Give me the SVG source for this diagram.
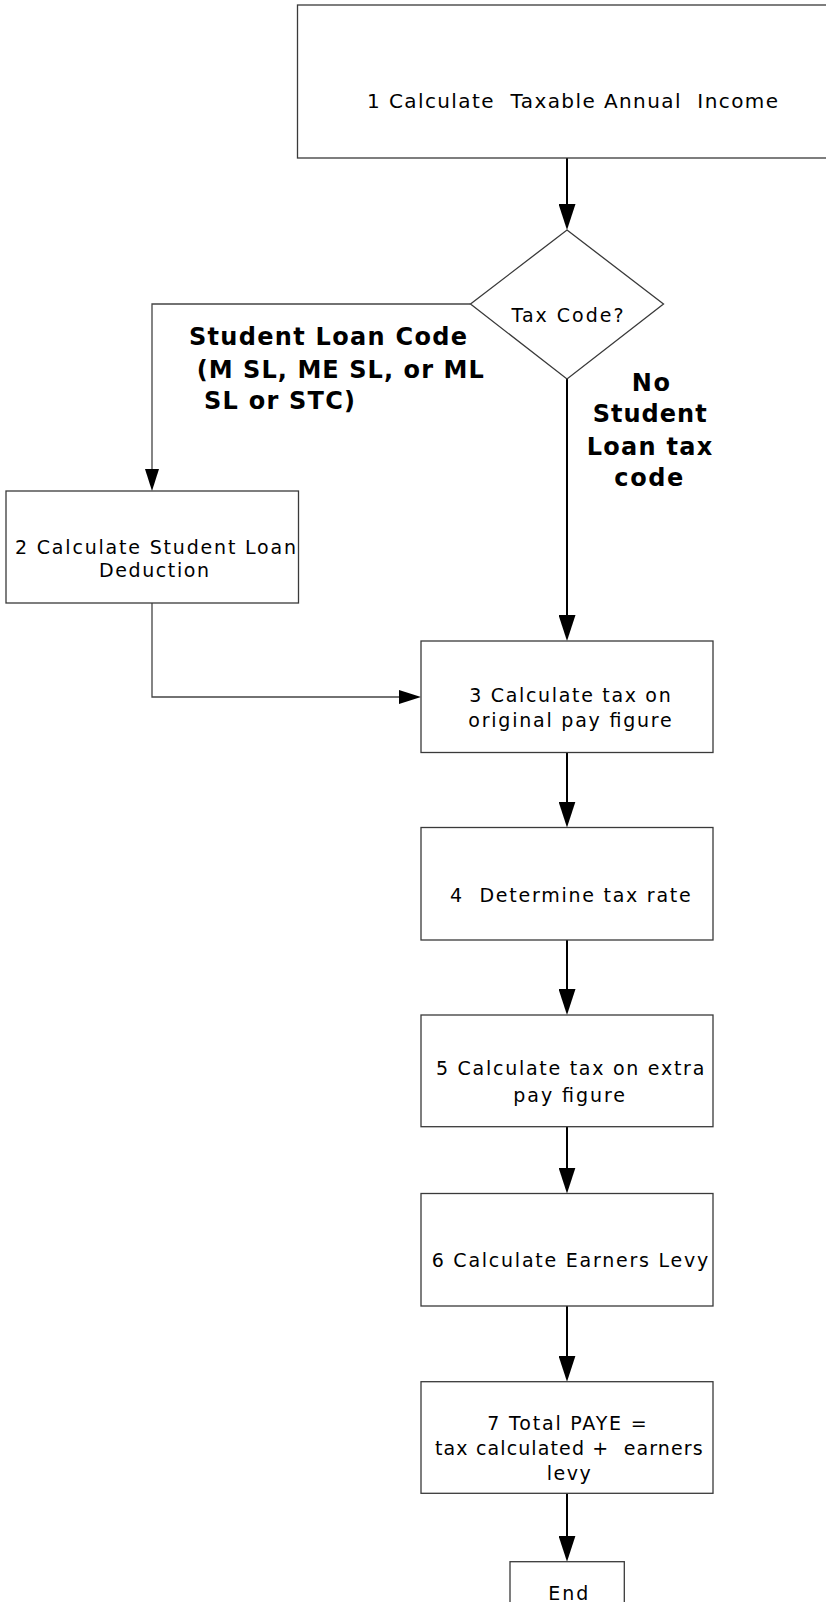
<svg xmlns="http://www.w3.org/2000/svg" width="826" height="1602" viewBox="0 0 826 1602">
<style>
.box{fill:#fff;stroke:#3a3a3a;stroke-width:1.3}
.t{font-family:"DejaVu Sans","Verdana",sans-serif;font-size:19px;fill:#000;white-space:pre}
.b{font-family:"DejaVu Sans","Verdana",sans-serif;font-size:24px;font-weight:bold;fill:#000;white-space:pre}
.main{fill:none;stroke:#000;stroke-width:2;marker-end:url(#ah)}
.br{fill:none;stroke:#444;stroke-width:1.3}
.bra{marker-end:url(#ahs)}
</style>
<defs>
<marker id="ah" viewBox="0 0 26 17" refX="16" refY="8.5" markerWidth="26" markerHeight="17" markerUnits="userSpaceOnUse" orient="auto">
<path d="M0,0 L26,8.5 L0,17 Z" fill="#000"/>
</marker>
<marker id="ahs" viewBox="0 0 22 14" refX="12" refY="7" markerWidth="22" markerHeight="14" markerUnits="userSpaceOnUse" orient="auto">
<path d="M0,0 L22,7 L0,14 Z" fill="#000"/>
</marker>
</defs>
<rect width="826" height="1602" fill="#fff"/>
<g id="connectors">
<path class="main" d="M567,158 V220"/>
<path class="main" d="M567,379 V631"/>
<path class="br bra" d="M470.5,304 H152 V481"/>
<path class="br bra" d="M152,603 V697 H411"/>
<path class="main" d="M567,752.5 V817.5"/>
<path class="main" d="M567,940 V1005"/>
<path class="main" d="M567,1126.7 V1183.5"/>
<path class="main" d="M567,1306 V1371.7"/>
<path class="main" d="M567,1493.3 V1551.7"/>
<g id="label-student-loan">
<text class="b" x="189" y="345" textLength="278" lengthAdjust="spacing">Student Loan Code</text>
<text class="b" x="196.7" y="378" textLength="287" lengthAdjust="spacing">(M SL, ME SL, or ML</text>
<text class="b" x="204" y="409" textLength="151" lengthAdjust="spacing">SL or STC)</text>
</g>
<g id="label-no-student-loan">
<text class="b" x="631.7" y="390.7" textLength="38.3" lengthAdjust="spacing">No</text>
<text class="b" x="592.7" y="422.3" textLength="114" lengthAdjust="spacing">Student</text>
<text class="b" x="586.7" y="455" textLength="125.6" lengthAdjust="spacing">Loan tax</text>
<text class="b" x="614.3" y="485.7" textLength="69" lengthAdjust="spacing">code</text>
</g>
</g>
<g id="n1">
<rect class="box" x="297.5" y="5" width="600" height="153"/>
<text class="t" x="367" y="108" style="font-size:20px" textLength="411" lengthAdjust="spacing">1 Calculate  Taxable Annual  Income</text>
</g>
<g id="decision">
<polygon class="box" points="567,230 663.5,304 567,379 470.5,304"/>
<text class="t" x="511.5" y="321.5" textLength="112" lengthAdjust="spacing">Tax Code?</text>
</g>
<g id="n2">
<rect class="box" x="6" y="491" width="292.5" height="112"/>
<text class="t" x="15" y="554" textLength="281" lengthAdjust="spacing">2 Calculate Student Loan</text>
<text class="t" x="99" y="577" textLength="110" lengthAdjust="spacing">Deduction</text>
</g>
<g id="n3">
<rect class="box" x="421" y="641" width="292" height="111.5"/>
<text class="t" x="469.3" y="701.7" textLength="201.4" lengthAdjust="spacing">3 Calculate tax on</text>
<text class="t" x="468.3" y="726.7" textLength="203.4" lengthAdjust="spacing">original pay figure</text>
</g>
<g id="n4">
<rect class="box" x="421" y="827.5" width="292" height="112.5"/>
<text class="t" x="450" y="902.3" textLength="240.7" lengthAdjust="spacing">4  Determine tax rate</text>
</g>
<g id="n5">
<rect class="box" x="421" y="1015" width="292" height="111.7"/>
<text class="t" x="436" y="1075" textLength="268.3" lengthAdjust="spacing">5 Calculate tax on extra</text>
<text class="t" x="513.3" y="1101.7" textLength="111.7" lengthAdjust="spacing">pay figure</text>
</g>
<g id="n6">
<rect class="box" x="421" y="1193.5" width="292" height="112.5"/>
<text class="t" x="431.7" y="1267.3" textLength="276.6" lengthAdjust="spacing">6 Calculate Earners Levy</text>
</g>
<g id="n7">
<rect class="box" x="421" y="1381.7" width="292" height="111.6"/>
<text class="t" x="487.3" y="1430" textLength="159.4" lengthAdjust="spacing">7 Total PAYE =</text>
<text class="t" x="435" y="1455" textLength="267.7" lengthAdjust="spacing">tax calculated +  earners</text>
<text class="t" x="546.7" y="1480" textLength="44" lengthAdjust="spacing">levy</text>
</g>
<g id="end">
<rect class="box" x="510" y="1561.7" width="114.3" height="60"/>
<text class="t" x="548.3" y="1600" textLength="40" lengthAdjust="spacing">End</text>
</g>
</svg>
